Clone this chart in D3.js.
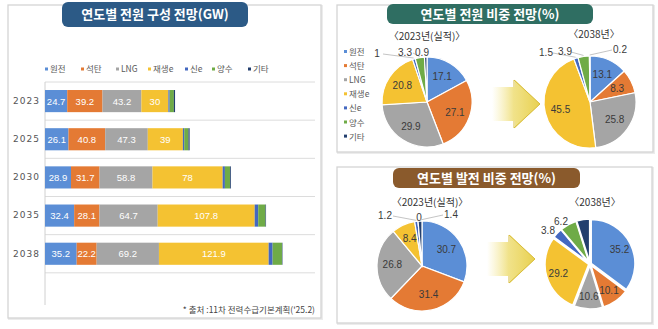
<!DOCTYPE html>
<html>
<head>
<meta charset="utf-8">
<script src="https://cdn.jsdelivr.net/npm/d3@7"></script>
<style>
  html, body { margin: 0; padding: 0; background: #fff; }
  svg { display: block; font-family: "Noto Sans CJK KR", "Noto Sans", sans-serif; }
</style>
</head>
<body>
<div id="chart"></div>
<script>
// sources and colours
const sources = ['원전', '석탄', 'LNG', '재생e', '신e', '양수', '기타'];
const colors = ['#5b8ed6', '#e47a34', '#a5a5a5', '#f4c232', '#4468c0', '#6fab47', '#233f6e'];

// capacity by year (GW)
const years = ['2023', '2025', '2030', '2035', '2038'];
const nuclear = [24.7, 26.1, 28.9, 32.4, 35.2];
const coal = [39.2, 40.8, 31.7, 28.1, 22.2];
const lng = [43.2, 47.3, 58.8, 64.7, 69.2];
const renew = [30, 39, 78, 107.8, 121.9];
const newEnergy = [1.4, 1.5, 2.5, 3.9, 4.4];
const pumped = [4.7, 4.7, 5.7, 8.1, 10.4];
const other = [1.3, 1.3, 0.9, 0.6, 0.5];

// shares (%)
const capShare2023 = [17.1, 27.1, 29.9, 20.8, 1, 3.3, 0.9];
const capShare2038 = [13.1, 8.3, 25.8, 45.5, 1.5, 3.9, 0.2];
const genShare2023 = [30.7, 31.4, 26.8, 8.4, 1.2, 0, 1.4];
const genShare2038 = [35.2, 10.1, 10.6, 29.2, 3.8, 6.2, 4.9];

const W = 658, H = 329;
const svg = d3.select('#chart').append('svg').attr('width', W).attr('height', H);

// ---- panels ----
function panel(x, y, w, h) {
  svg.append('rect').attr('x', x + 1).attr('y', y + 1).attr('width', w).attr('height', h)
    .attr('fill', 'none').attr('stroke', '#ececec').attr('stroke-width', 2);
  svg.append('rect').attr('x', x).attr('y', y).attr('width', w).attr('height', h)
    .attr('fill', '#fff').attr('stroke', '#d4d4d4').attr('stroke-width', 1.3);
}
function banner(x, y, w, h, fill, label) {
  svg.append('rect').attr('x', x).attr('y', y).attr('width', w).attr('height', h)
    .attr('rx', 6).attr('fill', fill);
  svg.append('text').attr('x', x + w / 2).attr('y', y + h / 2 + 4.5)
    .attr('text-anchor', 'middle').attr('fill', '#fff')
    .style('font-size', '13px').style('font-weight', 700).text(label);
}

panel(8, 5, 313, 313);
panel(337, 5, 316, 147);
panel(337, 167, 315, 156);
banner(62, 2, 186, 25, '#2c5a86', '연도별 전원 구성 전망(GW)');
banner(387, 4, 206, 20, '#2f6e62', '연도별 전원 비중 전망(%)');
banner(393, 168, 187, 20, '#8a5a2c', '연도별 발전 비중 전망(%)');

// ---- stacked bars ----
const series = [nuclear, coal, lng, renew, newEnergy, pumped, other];
const rows = years.map((yr, i) => {
  const r = { year: yr };
  sources.forEach((s, k) => r[s] = series[k][i]);
  return r;
});
const stacked = d3.stack().keys(sources)(rows);

const x = d3.scaleLinear().domain([0, 300]).range([45, 315]);
const y = d3.scaleBand().domain([...years, '']).range([82, 311])
  .paddingInner(0.42).paddingOuter(0.21);
const step = y.step();

// grid lines at band boundaries
const g = svg.append('g');
g.selectAll('line.grid').data(y.domain()).join('line')
  .attr('x1', 45).attr('x2', 315)
  .attr('y1', d => y(d) - step * 0.21).attr('y2', d => y(d) - step * 0.21)
  .attr('stroke', '#dcdcdc').attr('stroke-width', 1);
g.append('line').attr('x1', 45).attr('x2', 45).attr('y1', 82).attr('y2', 305)
  .attr('stroke', '#d0d0d0');

// year axis
const yAxis = g.append('g').attr('transform', 'translate(42,0)')
  .call(d3.axisLeft(y).tickValues(years).tickSize(0).tickPadding(2));
yAxis.select('.domain').remove();
yAxis.selectAll('text').attr('fill', '#555').style('font-size', '9px')
  .style('letter-spacing', '1px').style('font-family', '"DejaVu Sans", sans-serif');

stacked.forEach((layer, k) => {
  g.selectAll(null).data(layer).join('rect')
    .attr('x', d => x(d[0])).attr('width', d => x(d[1]) - x(d[0]))
    .attr('y', d => y(d.data.year)).attr('height', y.bandwidth())
    .attr('fill', colors[k]);
  if (k < 4) {
    g.selectAll(null).data(layer).join('text')
      .attr('x', d => (x(d[0]) + x(d[1])) / 2)
      .attr('y', d => y(d.data.year) + y.bandwidth() / 2 + 3.5)
      .attr('text-anchor', 'middle').attr('fill', '#fff')
      .style('font-size', '9.5px').style('font-family', '"Liberation Sans", Arial, sans-serif')
      .text(d => d.data[layer.key]);
  }
});

// legend (bar)
const legendX = [45, 81, 116, 148, 185, 212, 248];
const lg = svg.append('g');
sources.forEach((s, k) => {
  lg.append('rect').attr('x', legendX[k]).attr('y', 67.5).attr('width', 3).attr('height', 3).attr('fill', colors[k]);
  lg.append('text').attr('x', legendX[k] + 5).attr('y', 72).attr('fill', '#595959')
    .style('font-size', '8.5px').text(s);
});

svg.append('text').attr('x', 315).attr('y', 313).attr('text-anchor', 'end')
  .attr('fill', '#444').style('font-size', '8.5px').text("* 출처 :11차 전력수급기본계획('25.2)");

// ---- pie legend ----
sources.forEach((s, k) => {
  svg.append('rect').attr('x', 344).attr('y', 50 + k * 14.1).attr('width', 3).attr('height', 3).attr('fill', colors[k]);
  svg.append('text').attr('x', 349).attr('y', 55 + k * 14.1).attr('fill', '#595959')
    .style('font-size', '8.5px').text(s);
});

// ---- pies ----
const pie = d3.pie().sort(null).value(d => d);

function drawPie(values, cx, cy, R, title, titleY, opts) {
  const pg = svg.append('g').attr('transform', `translate(${cx},${cy})`);
  const arcs = pie(values);
  const arc = d3.arc().innerRadius(0).outerRadius(R);
  const lab = d3.arc().innerRadius(R * opts.lr).outerRadius(R * opts.lr);
  const edge = d3.arc().innerRadius(R + 1).outerRadius(R + 1);
  pg.selectAll('path').data(arcs).join('path')
    .attr('d', arc).attr('fill', (d, i) => colors[i])
    .attr('stroke', '#fff').attr('stroke-width', opts.sw)
    .attr('transform', d => {
      if (!opts.explode) return null;
      const a = (d.startAngle + d.endAngle) / 2;
      return `translate(${Math.sin(a) * opts.explode},${-Math.cos(a) * opts.explode})`;
    });
  // inner labels (first four sources)
  pg.selectAll('text.in').data(arcs.slice(0, 4)).join('text')
    .attr('transform', d => `translate(${lab.centroid(d)})`)
    .attr('dy', '0.35em').attr('text-anchor', 'middle').attr('fill', '#3a3a3a')
    .style('font-size', '10px').style('font-family', '"Liberation Sans", Arial, sans-serif')
    .text(d => d.data);
  // callouts for small slices
  (opts.callouts || []).forEach(c => {
    const d = arcs[c.i];
    const p = edge.centroid(d);
    const lx = c.dx, ly = c.dy;
    if (c.line) {
      pg.append('polyline')
        .attr('points', [[p[0], p[1]], [lx + c.line, ly + 1]].map(q => q.join(',')).join(' '))
        .attr('fill', 'none').attr('stroke', '#b5b5b5').attr('stroke-width', 0.8);
    }
    pg.append('text').attr('x', lx).attr('y', ly).attr('dy', '0.35em')
      .attr('text-anchor', 'middle').attr('fill', '#3a3a3a')
      .style('font-size', '10px').style('font-family', '"Liberation Sans", Arial, sans-serif')
      .text(d.data);
  });
  svg.append('text').attr('x', cx + (opts.tdx || 0)).attr('y', titleY).attr('text-anchor', 'middle')
    .attr('fill', '#333').style('font-size', '10px').text(title);
}

drawPie(capShare2023, 427, 102, 45, '〈2023년(실적)〉', 40, {
  lr: 0.66, sw: 1.2, tdx: 0,
  callouts: [
    { i: 4, dx: -50, dy: -49, line: 6 },
    { i: 5, dx: -22, dy: -50, line: 8 },
    { i: 6, dx: -5, dy: -50, line: 0 }
  ]
});
drawPie(capShare2038, 590, 102, 46, '〈2038년〉', 38, {
  lr: 0.66, sw: 1.2, tdx: 4,
  callouts: [
    { i: 4, dx: -44, dy: -50, line: 7 },
    { i: 5, dx: -25, dy: -51, line: 6 },
    { i: 6, dx: 30, dy: -53, line: -8 }
  ]
});
drawPie(genShare2023, 422, 266, 45, '〈2023년(실적)〉', 206, {
  lr: 0.66, sw: 1.2, tdx: 8,
  callouts: [
    { i: 4, dx: -37, dy: -51, line: 8 },
    { i: 5, dx: -3, dy: -49, line: 0 },
    { i: 6, dx: 29, dy: -52, line: -8 }
  ]
});
// 2038 generation: 기타 slice is drawn but not labelled in the source
drawPie(genShare2038, 590, 264, 44, '〈2038년〉', 206, {
  lr: 0.75, sw: 1.8, explode: 1.2, tdx: 5,
  callouts: [
    { i: 4, dx: -42, dy: -34, line: 0 },
    { i: 5, dx: -29, dy: -43, line: 0 }
  ]
});

// ---- arrows ----
const defs = svg.append('defs');
const grad = defs.append('linearGradient').attr('id', 'arrowGrad').attr('x1', 0).attr('x2', 1).attr('y1', 0).attr('y2', 0);
grad.append('stop').attr('offset', '0%').attr('stop-color', '#f3e58a').attr('stop-opacity', 0);
grad.append('stop').attr('offset', '45%').attr('stop-color', '#eddb6c').attr('stop-opacity', 0.8);
grad.append('stop').attr('offset', '100%').attr('stop-color', '#e8d04e').attr('stop-opacity', 1);

function arrow(x0, cy) {
  const a = svg.append('g').attr('transform', `translate(${x0},${cy})`);
  a.append('path')
    .attr('d', 'M0,-17 L23,-17 L23,-24 L48,0 L23,24 L23,17 L0,17 Z')
    .attr('fill', 'url(#arrowGrad)');
  a.append('path')
    .attr('d', 'M22,-17 L22,-24 L48,0 L22,24 L22,17')
    .attr('fill', 'none').attr('stroke', '#d8bd3c').attr('stroke-width', 1);
}
arrow(492, 104);
arrow(487, 259);
</script>
</body>
</html>
